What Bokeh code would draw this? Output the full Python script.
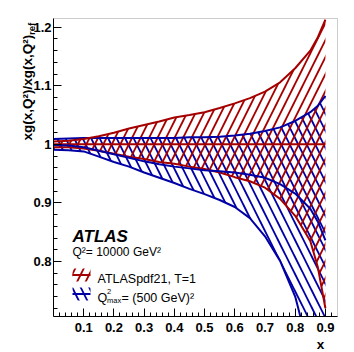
import math
from bokeh.plotting import figure
from bokeh.models import FixedTicker, Label, Range1d, LinearAxis, BoxAnnotation
from bokeh.embed import file_html
from bokeh.resources import INLINE

# ---------------- data ----------------
x = [0.0, 0.05, 0.1, 0.15, 0.2, 0.25, 0.3, 0.35, 0.4, 0.45, 0.5,
     0.55, 0.6, 0.65, 0.7, 0.75, 0.8, 0.85, 0.875, 0.9]

# ATLASpdf21, T=1 (red band, central value = reference)
red_central = [1.0] * 20
red_upper = [1.005, 1.006, 1.009, 1.014, 1.020, 1.027, 1.033, 1.039, 1.046, 1.050,
             1.055, 1.062, 1.070, 1.079, 1.090, 1.106, 1.130, 1.160, 1.183, 1.213]
red_lower = [0.995, 0.995, 0.993, 0.989, 0.984, 0.979, 0.975, 0.970, 0.967, 0.962,
             0.958, 0.952, 0.944, 0.937, 0.926, 0.907, 0.878, 0.835, 0.790, 0.720]

# Q2max = (500 GeV)^2 (blue band)
blue_central = [0.999, 0.998, 0.995, 0.989, 0.983, 0.977, 0.971, 0.966, 0.962, 0.959,
                0.956, 0.954, 0.952, 0.948, 0.943, 0.932, 0.916, 0.890, 0.868, 0.836]
blue_upper = [1.009, 1.010, 1.011, 1.011, 1.011, 1.011, 1.011, 1.011, 1.011, 1.012,
              1.012, 1.013, 1.015, 1.018, 1.023, 1.029, 1.040, 1.055, 1.066, 1.083]
blue_lower = [0.991, 0.990, 0.988, 0.979, 0.970, 0.962, 0.952, 0.943, 0.934, 0.924,
              0.915, 0.905, 0.893, 0.874, 0.843, 0.801, 0.740, 0.640, 0.590, 0.540]

x_major = [0.1, 0.2, 0.3, 0.4, 0.5, 0.6, 0.7, 0.8, 0.9]
x_labels = ["0.1", "0.2", "0.3", "0.4", "0.5", "0.6", "0.7", "0.8", "0.9"]
y_major = [0.8, 0.9, 1.0, 1.1, 1.2]
y_labels = ["0.8", "0.9", "1", "1.1", "1.2"]

series_names = ["ATLASpdf21, T=1", "= (500 GeV)²"]

# ---------------- layout (page pixels; the Bokeh page has no body margin) ----------------
RED = "#a50000"
BLUE = "#0000a5"
FONT = "Liberation Sans"
HS = 17      # hatch tile size
HW = 1.8     # hatch line weight

X0, X1 = 0.0, 0.94          # plot-box axis extent
Y0, Y1 = 0.706, 1.215
PAGE_W, PAGE_H = 354, 352
BL, BR, BT, BB = 53, 337, 18, 316   # plot-box edges in page px


def xd(px):  # page px -> data x
    return X0 + (px - BL) / (BR - BL) * (X1 - X0)


def yd(py):  # page px -> data y
    return Y1 - (py - BT) / (BB - BT) * (Y1 - Y0)


# the frame covers the whole canvas; axes are pinned to the plot box
p = figure(width=PAGE_W, height=PAGE_H,
           x_range=Range1d(xd(0), xd(PAGE_W)), y_range=Range1d(yd(PAGE_H), yd(0)),
           output_backend="svg", toolbar_location=None,
           x_axis_location=None, y_axis_location=None,
           min_border_left=0, min_border_right=0, min_border_top=0, min_border_bottom=0)
p.xgrid.visible = False
p.ygrid.visible = False
p.outline_line_color = None
p.background_fill_color = "white"
p.border_fill_color = "white"

minor_x = [round(0.02 * i, 2) for i in range(1, 48)
           if round(0.02 * i, 2) not in x_major and 0.02 * i <= X1]
minor_y = [round(0.70 + 0.02 * i, 2) for i in range(0, 27)
           if Y0 <= 0.70 + 0.02 * i <= Y1]

xax = LinearAxis(fixed_location=Y0, bounds=(X0, X1),
                 ticker=FixedTicker(ticks=x_major, minor_ticks=minor_x),
                 major_label_overrides={v: s for v, s in zip(x_major, x_labels)})
yax = LinearAxis(fixed_location=X0, bounds=(Y0, Y1),
                 ticker=FixedTicker(ticks=y_major, minor_ticks=minor_y),
                 major_label_overrides={v: s for v, s in zip(y_major, y_labels)})
for ax in (xax, yax):
    ax.major_tick_in = 8
    ax.major_tick_out = 0
    ax.minor_tick_in = 4
    ax.minor_tick_out = 0
    ax.axis_line_color = "black"
    ax.axis_line_width = 1
    ax.major_tick_line_color = "black"
    ax.minor_tick_line_color = "black"
    ax.major_label_text_font = FONT
    ax.major_label_text_font_style = "bold"
    ax.major_label_text_font_size = "13px"
    ax.major_label_text_color = "black"
xax.major_label_standoff = 6
yax.major_label_standoff = 2

# plot-box outline (top / right visible; left / bottom are under the axes)
p.add_layout(BoxAnnotation(left=X0, right=X1, bottom=Y0, top=Y1,
                           fill_color=None, fill_alpha=0,
                           line_color="#555555", line_width=1, level="underlay"))

# ---------------- bands ----------------
p.varea(x=x, y1=blue_lower, y2=blue_upper, fill_color=None, fill_alpha=0,
        hatch_pattern="\\", hatch_color=BLUE, hatch_scale=HS, hatch_weight=HW)
p.varea(x=x, y1=red_lower, y2=red_upper, fill_color=None, fill_alpha=0,
        hatch_pattern="/", hatch_color=RED, hatch_scale=HS, hatch_weight=HW)

for ys in (blue_upper, blue_lower):
    p.line(x, ys, line_color=BLUE, line_width=2)
for ys in (red_upper, red_lower, red_central):
    p.line(x, ys, line_color=RED, line_width=2)
p.line(x, blue_central, line_color=BLUE, line_width=2)

# white mask: everything below the plot box (clips the band like the frame does)
p.quad(left=[xd(0)], right=[xd(PAGE_W)], top=[Y0], bottom=[yd(PAGE_H)],
       fill_color="white", line_color=None)

# ---------------- legend swatches ----------------
for col, pat, top, bot in ((RED, "/", 268, 281), (BLUE, "\\", 287, 300)):
    p.quad(left=[xd(72)], right=[xd(90)], top=[yd(top)], bottom=[yd(bot)],
           fill_color=None, fill_alpha=0, line_color=None,
           hatch_pattern=pat, hatch_color=col, hatch_scale=HS, hatch_weight=HW)
    mid = (top + bot) / 2
    p.segment(x0=[xd(72)], y0=[yd(mid)], x1=[xd(90)], y1=[yd(mid)],
              line_color=col, line_width=2)

p.add_layout(xax, "below")
p.add_layout(yax, "left")


def lab(text, px, py, size, style="normal", angle=0.0, align="left"):
    p.add_layout(Label(x=xd(px), y=yd(py), text=text, text_font=FONT,
                       text_font_size=f"{size}px", text_font_style=style,
                       angle=angle, text_align=align, text_baseline="alphabetic",
                       text_color="black"))


# axis titles
lab("xg(x,Q²)/xg(x,Q²)", 27, 140, 13.5, "bold", angle=math.pi / 2)
lab("ref", 30.5, 34.5, 9.5, "bold", angle=math.pi / 2)
lab("x", 320, 344, 13.5, "bold", align="center")

# text block and legend
lab("ATLAS", 72, 236, 17, "bold italic")
lab("Q²= 10000 GeV²", 72, 251, 12)
lab(series_names[0], 97, 278, 12.5)
lab("Q", 97, 297, 12.5)
lab("2", 106.5, 291, 7.5)
lab("max", 106.5, 300, 7.5)
lab(series_names[1], 121, 297, 12.5)

open("out.html", "w").write(file_html(p, INLINE))
